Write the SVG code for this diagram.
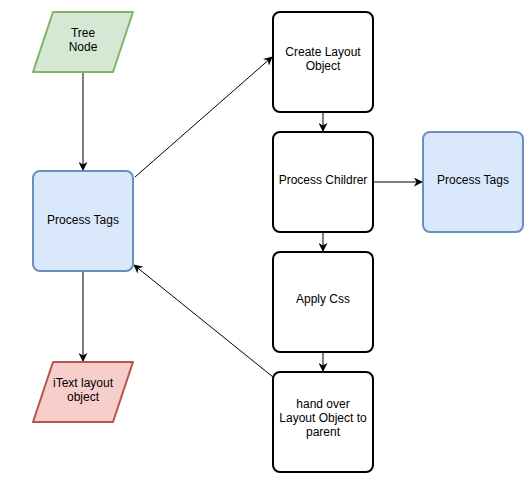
<svg xmlns="http://www.w3.org/2000/svg" width="526" height="489" viewBox="0 0 526 489">
<defs>
<marker id="arr" viewBox="0 0 10 10" refX="9" refY="5" markerWidth="9" markerHeight="9" markerUnits="userSpaceOnUse" orient="auto">
<path d="M0,0 L10,5 L0,10 L3,5 Z" fill="#000"/>
</marker>
<style>
.lbl{font-family:"Liberation Sans",Arial,sans-serif;font-size:12px;fill:#000;text-anchor:middle}
.box{fill:#fff;stroke:#000;stroke-width:2}
.blue{fill:#dae8fc;stroke:#6c8ebf;stroke-width:2}
.edge{fill:none;stroke:#000;stroke-width:1;marker-end:url(#arr)}
</style>
</defs>
<rect width="526" height="489" fill="#fff"/>
<g id="connectors">
<path class="edge" d="M83,72 L83,170"/>
<path class="edge" d="M83,271 L83,361"/>
<path class="edge" d="M135,177 L272,57"/>
<path class="edge" d="M323,112 L323,131"/>
<path class="edge" d="M373,182 L422,182"/>
<path class="edge" d="M323,232 L323,251"/>
<path class="edge" d="M323,352 L323,371"/>
<path class="edge" d="M273,377 L134,265"/>
</g>
<g id="tree-node">
<path d="M53,12 L133,12 L113,72 L33,72 Z" fill="#d5e8d4" stroke="#82b366" stroke-width="2" stroke-linejoin="round"/>
<text class="lbl" x="83" y="37">Tree</text>
<text class="lbl" x="83" y="51">Node</text>
</g>
<g id="process-tags-left">
<rect class="blue" x="33" y="171" width="100" height="100" rx="7"/>
<text class="lbl" x="83" y="224">Process Tags</text>
</g>
<g id="itext">
<path d="M53,362 L133,362 L113,422 L33,422 Z" fill="#f8cecc" stroke="#b85450" stroke-width="2" stroke-linejoin="round"/>
<text class="lbl" x="83" y="387">iText layout</text>
<text class="lbl" x="83" y="401">object</text>
</g>
<g id="create-layout">
<rect class="box" x="273" y="12" width="100" height="100" rx="7"/>
<text class="lbl" x="323" y="56">Create Layout</text>
<text class="lbl" x="323" y="70">Object</text>
</g>
<g id="process-childrer">
<rect class="box" x="273" y="132" width="100" height="100" rx="7"/>
<text class="lbl" x="323" y="184">Process Childrer</text>
</g>
<g id="process-tags-right">
<rect class="blue" x="423" y="132" width="100" height="100" rx="7"/>
<text class="lbl" x="473" y="184">Process Tags</text>
</g>
<g id="apply-css">
<rect class="box" x="273" y="252" width="100" height="100" rx="7"/>
<text class="lbl" x="323" y="303">Apply Css</text>
</g>
<g id="hand-over">
<rect class="box" x="273" y="372" width="100" height="100" rx="7"/>
<text class="lbl" x="323" y="408">hand over</text>
<text class="lbl" x="323" y="422">Layout Object to</text>
<text class="lbl" x="323" y="436">parent</text>
</g>
</svg>
